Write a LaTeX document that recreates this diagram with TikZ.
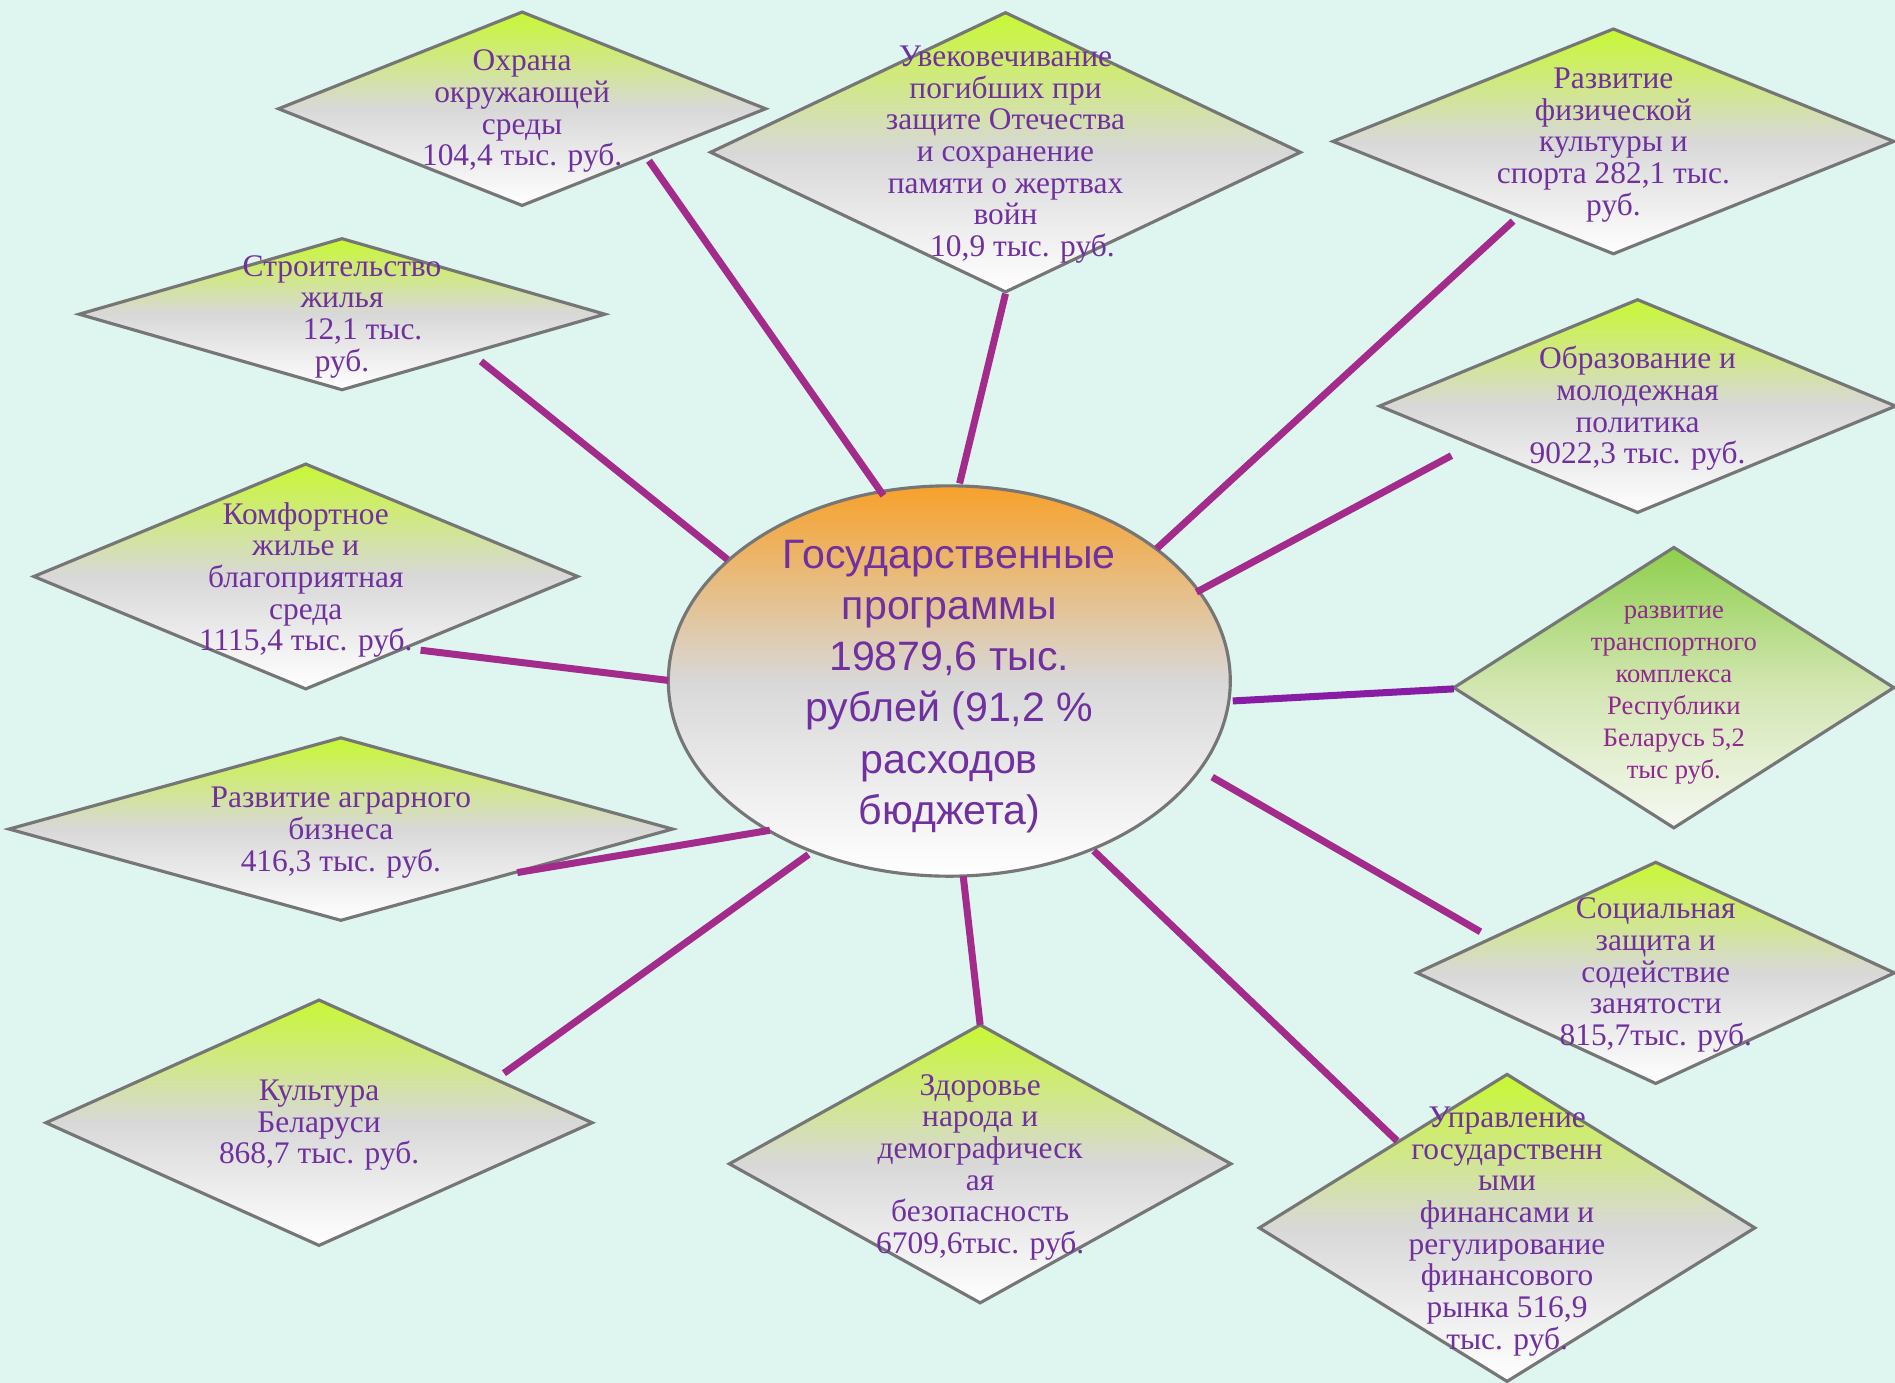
\documentclass[tikz,border=0pt]{standalone}
\usepackage{fontspec}
\setmainfont{Liberation Serif}
\newfontfamily\sansf{Liberation Sans}
\usetikzlibrary{shapes.geometric}
\definecolor{bgc}{HTML}{DEF5F0}
\definecolor{bordc}{HTML}{767676}
\definecolor{txtc}{HTML}{7030A0}
\definecolor{txtb}{HTML}{92278F}
\definecolor{connc}{HTML}{A22B8C}
\definecolor{connb}{HTML}{871DA5}
\definecolor{dtop}{HTML}{C8F833}
\definecolor{dmid}{HTML}{D8D8D8}
\definecolor{etop}{HTML}{F7A12B}
\definecolor{gtop}{HTML}{8ECF4C}
\definecolor{gmid}{HTML}{D3E6B2}
\definecolor{gbot}{HTML}{F5F8F2}
\tikzset{
  dia/.style={shape=diamond, draw=bordc, line width=1.3pt, inner sep=0pt, outer sep=0pt,
    top color=dtop, bottom color=white, middle color=dmid},
  gdia/.style={shape=diamond, draw=bordc, line width=1.3pt, inner sep=0pt, outer sep=0pt,
    top color=gtop, bottom color=gbot, middle color=gmid},
  dtxt/.style={align=center, text=txtc, font=\fontsize{13}{13.1}\selectfont, inner sep=0pt},
  gtxt/.style={align=center, text=txtb, font=\fontsize{11}{13.2}\selectfont, inner sep=0pt},
  etxt/.style={align=center, text=txtc, font=\sansf\fontsize{17}{21.2}\selectfont, inner sep=0pt},
  conn/.style={draw=connc, line width=2.9pt},
  connv/.style={draw=connb, line width=2.9pt},
}
\begin{document}
\begin{tikzpicture}[x=0.5pt,y=-0.5pt]
\fill[bgc] (0,0) rectangle (1568,1144);
\useasboundingbox (0,0) rectangle (1568,1144);

% diamonds
\node[dia, minimum width=201.5pt, minimum height=80pt] (d1) at (432,90) {};
\node[dia, minimum width=244pt, minimum height=115.5pt] (d2) at (832,126) {};
\node[dia, minimum width=232pt, minimum height=93pt] (d3) at (1335,117) {};
\node[dia, minimum width=217.5pt, minimum height=62.5pt] (d4) at (283,260) {};
\node[dia, minimum width=213.5pt, minimum height=88pt] (d5) at (1355,336) {};
\node[dia, minimum width=225pt, minimum height=93pt] (d6) at (253,477) {};
\node[gdia, minimum width=182pt, minimum height=116pt] (d7) at (1385,569) {};
\node[dia, minimum width=274.5pt, minimum height=75.5pt] (d8) at (282,686) {};
\node[dia, minimum width=197.5pt, minimum height=91.5pt] (d9) at (1370,805) {};
\node[dia, minimum width=226pt, minimum height=101.5pt] (d10) at (264,929) {};
\node[dia, minimum width=207.5pt, minimum height=115pt] (d11) at (811,963) {};
\node[dia, minimum width=205pt, minimum height=127pt] (d12) at (1247,1016) {};

% central ellipse
\node[shape=ellipse, draw=bordc, line width=1.3pt, inner sep=0pt, outer sep=0pt,
  minimum width=232.5pt, minimum height=161.5pt,
  top color=etop, bottom color=white, middle color=dmid] (e) at (785.5,563.5) {};

% connectors
\draw[conn] ([shift={(105,43)}]d1.center) -- ([shift={(-54.5,-153.5)}]e.center);
\draw[conn] ([shift={(0,117)}]d2.center) -- ([shift={(8.5,-163.5)}]e.center);
\draw[conn] ([shift={(-83,66)}]d3.center) -- ([shift={(171.5,-109.5)}]e.center);
\draw[conn] ([shift={(115,39)}]d4.center) -- ([shift={(-183.5,-100.5)}]e.center);
\draw[conn] ([shift={(-154,41)}]d5.center) -- ([shift={(204.5,-73.5)}]e.center);
\draw[conn] ([shift={(95,61)}]d6.center) -- ([shift={(-232.5,-0.5)}]e.center);
\draw[connv] ([shift={(-182,1)}]d7.center) -- ([shift={(234.5,16.5)}]e.center);
\draw[conn] ([shift={(146,36)}]d8.center) -- ([shift={(-148.5,123.5)}]e.center);
\draw[conn] ([shift={(-145,-34)}]d9.center) -- ([shift={(217.5,79.5)}]e.center);
\draw[conn] ([shift={(153,-41)}]d10.center) -- ([shift={(-116.5,143.5)}]e.center);
\draw[conn] ([shift={(0,-115)}]d11.center) -- ([shift={(11.5,161.5)}]e.center);
\draw[conn] ([shift={(-91,-72)}]d12.center) -- ([shift={(119.5,140.5)}]e.center);

% texts
\node[etxt] (te) at (785.5,568) {Государственные\\программы\\19879,6 тыс.\\рублей (91,2 \%\\расходов\\бюджета)};
\node[dtxt] (t1) at (432,92) {Охрана\\окружающей\\среды\\104,4 тыс. руб.};
\node[dtxt] (t2) at (832,128) {Увековечивание\\погибших при\\защите Отечества\\и сохранение\\памяти о жертвах\\войн\\\hspace*{14pt}10,9 тыс. руб.};
\node[dtxt] (t3) at (1335,120) {Развитие\\физической\\культуры и\\спорта 282,1 тыс.\\руб.};
\node[dtxt] (t4) at (283,262) {Строительство\\жилья\\\hspace*{17pt}12,1 тыс.\\руб.};
\node[dtxt] (t5) at (1355,338) {Образование и\\молодежная\\политика\\9022,3 тыс. руб.};
\node[dtxt] (t6) at (253,480) {Комфортное\\жилье и\\благоприятная\\среда\\1115,4 тыс. руб.};
\node[gtxt] (t7) at (1385,575) {развитие\\транспортного\\комплекса\\Республики\\Беларусь 5,2\\тыс руб.};
\node[dtxt] (t8) at (282,689) {Развитие аграрного\\бизнеса\\416,3 тыс. руб.};
\node[dtxt] (t9) at (1370,807) {Социальная\\защита и\\содействие\\занятости\\815,7тыс. руб.};
\node[dtxt] (t10) at (264,931) {Культура\\Беларуси\\868,7 тыс. руб.};
\node[dtxt] (t11) at (811,966) {Здоровье\\народа и\\демографическ\\ая\\безопасность\\6709,6тыс. руб.};
\node[dtxt] (t12) at (1247,1019) {Управление\\государственн\\ыми\\финансами и\\регулирование\\финансового\\рынка 516,9\\тыс. руб.};
\end{tikzpicture}
\end{document}
